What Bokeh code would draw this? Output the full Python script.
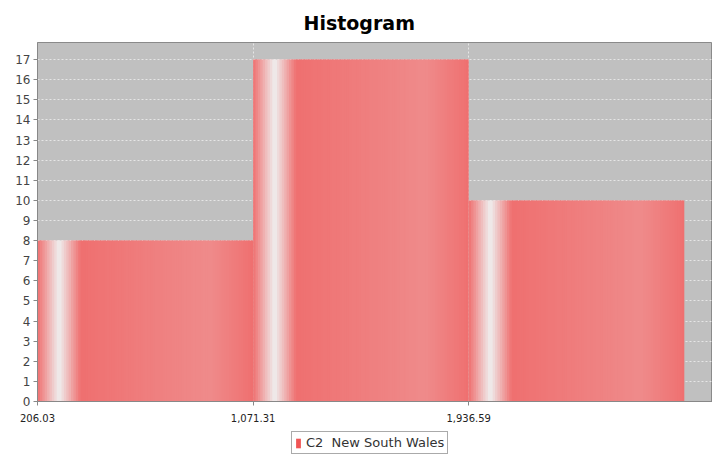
import numpy as np
from bokeh.plotting import figure
from bokeh.layouts import column
from bokeh.models import Range1d, FixedTicker, Legend, LegendItem, Title, ColumnDataSource
from bokeh.embed import file_html
from bokeh.resources import INLINE

# ---- data ----
bin_edges = [206.03, 1071.31, 1936.59, 2801.87]
counts = [8, 17, 10]
x_ticks = [206.03, 1071.31, 1936.59]
x_tick_labels = ["206.03", "1,071.31", "1,936.59"]
y_ticks = list(range(0, 18))
series_name = "C2  New South Wales"
title_text = "Histogram"

# ---- style ----
BG = (192, 192, 192)
ALPHA = 0.75
C0 = (255, 85, 85)
C1 = (255, 121, 121)
WHITE = (255, 255, 255)
STOPS = [(0.0, C0), (0.10, WHITE), (0.20, C0), (0.80, C1), (1.0, C0)]
N_STRIPS = 90


def blend(c):
    return tuple(int(round(ALPHA * c[k] + (1 - ALPHA) * BG[k])) for k in range(3))


def grad_color(t):
    for (t0, a), (t1, b) in zip(STOPS[:-1], STOPS[1:]):
        if t0 <= t <= t1:
            f = (t - t0) / (t1 - t0)
            c = tuple(a[k] + (b[k] - a[k]) * f for k in range(3))
            r, g, bb = blend(c)
            return "#%02x%02x%02x" % (r, g, bb)
    r, g, bb = blend(STOPS[-1][1])
    return "#%02x%02x%02x" % (r, g, bb)


lefts, rights, tops, bottoms, colors = [], [], [], [], []
for i, cnt in enumerate(counts):
    e0, e1 = bin_edges[i], bin_edges[i + 1]
    w = e1 - e0
    for j in range(N_STRIPS):
        l = e0 + w * j / N_STRIPS
        r = min(e0 + w * (j + 1.6) / N_STRIPS, e1)
        lefts.append(l)
        rights.append(r)
        tops.append(cnt)
        bottoms.append(0)
        colors.append(grad_color((j + 0.5) / N_STRIPS))

src = ColumnDataSource(dict(left=lefts, right=rights, top=tops, bottom=bottoms, color=colors))

p = figure(width=712, height=429, output_backend="svg", toolbar_location=None,
           x_range=Range1d(206.03, 2915), y_range=Range1d(0, 17.85),
           min_border_left=37, min_border_right=0, min_border_top=42, min_border_bottom=28)

p.title = Title(text=title_text, align="left", text_font_size="19px",
                text_font="DejaVu Sans", text_font_style="bold", text_color="#000000",
                offset=266, standoff=18)

p.background_fill_color = "#C0C0C0"
p.border_fill_color = "#FFFFFF"
p.outline_line_color = "#8a8a8a"
p.outline_line_width = 1

p.quad(left="left", right="right", top="top", bottom="bottom", source=src,
       fill_color="color", line_color=None)

# grid
p.ygrid.ticker = FixedTicker(ticks=y_ticks)
p.xgrid.ticker = FixedTicker(ticks=x_ticks)
for g in (p.xgrid, p.ygrid):
    g.grid_line_color = "#FFFFFF"
    g.grid_line_dash = "2 2"
    g.grid_line_alpha = 0.6
    g.grid_line_width = 1

# axes
p.yaxis.ticker = FixedTicker(ticks=y_ticks)
p.xaxis.ticker = FixedTicker(ticks=x_ticks)
p.xaxis.major_label_overrides = {t: s for t, s in zip(x_ticks, x_tick_labels)}
for ax in (p.xaxis, p.yaxis):
    ax.axis_line_color = "#888888"
    ax.major_tick_line_color = "#888888"
    ax.major_tick_out = 4
    ax.major_tick_in = 0
    ax.minor_tick_line_color = None
    ax.major_label_text_color = "#444444"
    ax.major_label_text_font = "DejaVu Sans"
p.yaxis.major_label_text_font_size = "12px"
p.xaxis.major_label_text_font_size = "10px"
p.xaxis.major_label_text_color = "#222222"
p.yaxis.major_label_standoff = 3
p.xaxis.major_label_standoff = 8

# legend strip (separate small figure below the chart)
q = figure(width=712, height=26, output_backend="svg", toolbar_location=None,
           x_axis_location=None, y_axis_location=None,
           min_border_left=37, min_border_right=0, min_border_top=0, min_border_bottom=0)
q.grid.visible = False
q.outline_line_color = None
q.background_fill_color = "#FFFFFF"
q.border_fill_color = "#FFFFFF"
legend_src = ColumnDataSource(dict(left=[bin_edges[0]], right=[bin_edges[0]], top=[0], bottom=[0]))
legend_r = q.quad(left="left", right="right", top="top", bottom="bottom", source=legend_src,
                  fill_color="#F05555", line_color=None)
legend = Legend(items=[LegendItem(label=series_name, renderers=[legend_r])],
                location=(254, 1),
                glyph_width=6, glyph_height=12, label_standoff=5,
                padding=3, margin=0, spacing=0,
                label_text_font="DejaVu Sans", label_text_font_size="13px",
                label_text_color="#333333",
                border_line_color="#555555", border_line_width=1,
                background_fill_color="#FFFFFF", background_fill_alpha=1.0)
q.add_layout(legend, "center")

layout = column(p, q, spacing=0)
open("out.html", "w").write(file_html(layout, INLINE))
